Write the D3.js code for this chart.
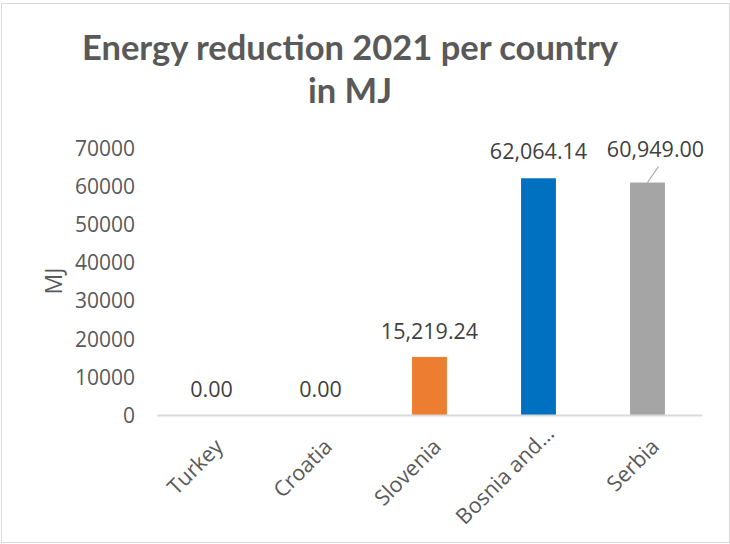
<!DOCTYPE html>
<html>
<head>
<meta charset="utf-8">
<script src="https://cdn.jsdelivr.net/npm/d3@7"></script>
<style>
  html, body { margin: 0; padding: 0; background: #fff; }
  svg { display: block; }
</style>
</head>
<body>
<svg id="chart" width="730" height="544"></svg>
<script>
// Energy reduction per country, 2021 (MJ)
const countries = ["Turkey", "Croatia", "Slovenia", "Bosnia and…", "Serbia"];
const reductionMJ = [0, 0, 15219.24, 62064.14, 60949.00];
const barColors = ["#4472C4", "#ED7D31", "#ED7D31", "#0070C0", "#A5A5A5"];
const yTicks = [0, 10000, 20000, 30000, 40000, 50000, 60000, 70000];
const titleLines = ["Energy reduction 2021 per country", "in MJ"];
const yAxisTitle = "MJ";

const svg = d3.select("#chart");
const W = 730, H = 544;
const bodyFont = "'Open Sans', 'Noto Sans', sans-serif";

// chart frame
svg.append("rect")
  .attr("x", 1.5).attr("y", 3.5)
  .attr("width", W - 2).attr("height", H - 5)
  .attr("fill", "#fff").attr("stroke", "#d9d9d9").attr("stroke-width", 1);

// plot area
const plot = { left: 157, right: 702, top: 148, bottom: 415 };

const x = d3.scaleBand()
  .domain(countries)
  .range([plot.left, plot.right])
  .paddingInner(0.68)
  .paddingOuter(0.34);

const y = d3.scaleLinear()
  .domain([0, 70000])
  .range([plot.bottom, plot.top]);

// title
const title = svg.append("g").attr("font-family", "Lato, 'Open Sans', sans-serif")
  .attr("font-weight", 700).attr("fill", "#595959").attr("text-anchor", "middle");
title.selectAll("text").data(titleLines).join("text")
  .attr("x", 350)
  .attr("y", (d, i) => 60 + i * 43)
  .attr("font-size", 34.5)
  .text(d => d);

// y axis (labels only, no line or ticks)
const yAxis = svg.append("g")
  .attr("transform", `translate(${plot.left - 22},0)`)
  .call(d3.axisLeft(y).tickValues(yTicks).tickFormat(d3.format("d")).tickSize(0).tickPadding(0));
yAxis.select(".domain").remove();
yAxis.selectAll("text")
  .attr("font-family", bodyFont).attr("font-size", 21)
  .attr("fill", "#595959").attr("dy", "0.35em");

// y axis title
svg.append("text")
  .attr("transform", `translate(62,281) rotate(-90)`)
  .attr("text-anchor", "middle")
  .attr("font-family", bodyFont).attr("font-size", 23)
  .attr("fill", "#595959")
  .text(yAxisTitle);

// bars
svg.append("g").selectAll("rect")
  .data(countries)
  .join("rect")
  .attr("x", d => x(d))
  .attr("width", x.bandwidth())
  .attr("y", (d, i) => y(reductionMJ[i]))
  .attr("height", (d, i) => plot.bottom - y(reductionMJ[i]))
  .attr("fill", (d, i) => barColors[i]);

// x axis line and rotated category labels
const xAxis = svg.append("g")
  .attr("transform", `translate(0,${plot.bottom})`)
  .call(d3.axisBottom(x).tickSize(0).tickPadding(0));
xAxis.select(".domain").attr("stroke", "#d9d9d9").attr("stroke-width", 2);
xAxis.selectAll(".tick text")
  .attr("font-family", bodyFont).attr("font-size", 21.5)
  .attr("fill", "#595959")
  .attr("text-anchor", "end")
  .attr("dy", 0)
  .attr("y", 0)
  .attr("transform", (d, i) => i === 3 ? "translate(17,20) rotate(-45)" : "translate(13,33) rotate(-45)");

// data labels
const fmt = d3.format(",.2f");
const labelOffset = [
  { dx: 0, dy: -18 }, { dx: 0, dy: -18 }, { dx: 0, dy: -18 },
  { dx: 0, dy: -19 }, { dx: 8, dy: -26 }
];
const labels = svg.append("g")
  .attr("font-family", bodyFont).attr("font-size", 21.5)
  .attr("fill", "#404040").attr("text-anchor", "middle");
labels.selectAll("text").data(countries).join("text")
  .attr("x", (d, i) => x(d) + x.bandwidth() / 2 + labelOffset[i].dx)
  .attr("y", (d, i) => y(reductionMJ[i]) + labelOffset[i].dy)
  .text((d, i) => fmt(reductionMJ[i]));

// leader line for the moved Serbia label
const si = 4;
const sx = x(countries[si]) + x.bandwidth() / 2;
svg.append("line")
  .attr("x1", sx).attr("y1", y(reductionMJ[si]))
  .attr("x2", sx + 11).attr("y2", y(reductionMJ[si]) - 16)
  .attr("stroke", "#a6a6a6").attr("stroke-width", 1.2);
</script>
</body>
</html>
